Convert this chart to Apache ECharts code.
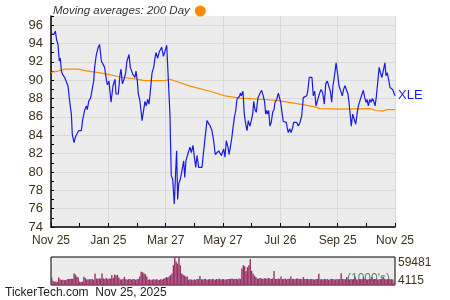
<!DOCTYPE html>
<html><head><meta charset="utf-8">
<script src="https://cdn.jsdelivr.net/npm/echarts@6/dist/echarts.min.js"></script>
<style>html,body{margin:0;padding:0;background:#fff}#c{width:450px;height:300px}</style>
</head><body><div id="c"></div>
<script>
// calendar-day offsets from Nov 25, 2024
const days = [0,3.2,4.6,6.0,7.4,8.8,9.9,11.0,12.4,14.5,16.3,18.0,19.8,21.6,22.6,24.4,26.2,27.9,29.4,32.2,33.6,35.7,37.5,38.5,40.0,42.1,43.9,45.3,46.3,48.1,49.9,51.6,53.4,55.2,56.9,58.7,59.8,61.5,63.7,65.8,67.9,69.0,71.4,73.2,74.3,75.7,77.5,79.2,80.6,82.8,84.1,85.6,87.0,89.1,90.2,91.6,92.6,94.1,95.5,96.6,98.3,99.7,101.1,102.6,104.0,105.4,107.2,109.0,110.3,111.4,113.2,114.9,117.4,119.3,121.3,122.8,124.9,126.2,127.6,129.1,130.8,132.3,133.3,134.4,135.5,137.2,139.0,140.8,141.9,143.2,145.0,146.1,147.5,148.9,150.7,152.1,153.6,154.9,156.7,158.5,160.2,162.0,163.7,165.5,167.3,169.0,170.8,172.6,174.3,176.1,177.9,179.0,180.7,181.8,183.2,184.6,186.0,187.8,188.9,190.3,191.7,193.1,194.5,196.0,197.3,198.7,200.2,200.9,202.0,203.7,205.1,206.6,208.0,209.3,211.1,212.5,214.0,215.1,216.4,217.8,219.6,221.4,223.5,225.2,226.7,227.8,228.8,229.9,231.0,232.3,233.7,235.2,236.6,237.7,239.5,241.2,243.7,245.1,246.5,248.3,249.7,250.8,251.8,253.3,254.6,256.1,257.5,258.9,260.7,262.4,264.2,266.0,267.7,269.5,271.3,272.4,274.0,275.5,276.9,278.3,279.8,281.2,283.0,284.7,286.5,288.3,290.0,291.5,293.2,294.6,296.4,297.8,299.2,300.8,302.5,304.2,305.6,307.7,309.1,310.5,311.9,313.7,315.1,316.2,317.6,318.6,320.1,321.8,323.3,324.7,326.1,328.2,330.0,331.4,332.9,334.2,335.3,336.7,338.2,339.6,341.0,342.5,343.9,345.3,346.8,348.2,349.6,351.1,352.5,354.3,355.4,356.8,358.2,359.7,361.1,362.5,364.0,365];
const prices = [95.06,95.0,95.35,94.4,93.9,92.1,92.4,91.0,90.6,90.3,90.3,89.4,87.7,86.3,84.1,83.2,83.9,83.8,84.5,84.5,85.7,86.7,87.2,86.8,87.7,88.1,88.3,89.9,91.4,92.8,93.5,93.9,92.1,92.3,91.4,90.1,89.5,89.9,87.6,89.4,90.1,88.5,88.5,90.6,91.2,89.6,90.1,90.8,92.1,92.8,91.4,91.5,90.6,90.3,91.0,89.9,88.5,87.9,86.7,85.6,85.7,87.7,87.2,87.9,87.4,88.8,90.8,91.4,92.4,93.0,92.4,93.1,93.6,92.6,92.4,93.8,94.0,86.3,79.6,79.2,76.5,80.1,82.3,77.0,78.7,79.2,79.4,81.2,79.4,81.2,81.9,81.8,82.7,82.1,82.9,81.6,80.5,81.8,80.5,80.5,80.5,82.3,83.9,85.6,85.4,85.0,84.5,83.4,81.9,81.8,82.3,82.5,81.8,81.6,82.5,81.6,83.4,82.7,81.9,82.7,83.6,84.8,85.9,86.7,87.9,88.1,88.3,88.6,88.3,88.8,86.3,85.2,84.5,85.6,85.0,85.6,86.3,87.7,86.8,86.5,88.1,88.5,88.9,88.3,87.6,86.3,86.7,86.3,86.7,85.0,85.4,86.5,86.8,87.6,87.9,88.6,87.6,86.5,85.5,85.4,85.4,84.7,84.3,84.7,84.3,84.7,85.4,85.6,85.4,85.0,85.4,86.1,88.1,88.3,88.3,88.8,90.3,90.3,90.3,88.3,88.8,87.2,87.0,88.5,89.0,88.6,87.4,89.6,89.9,89.8,88.8,87.6,89.4,90.5,91.9,90.6,89.4,89.4,88.3,89.0,89.4,89.4,88.5,87.6,86.1,85.0,86.3,86.1,85.2,86.3,87.2,87.9,88.5,88.9,88.1,87.6,87.9,87.2,87.9,87.6,88.0,87.7,87.2,88.3,89.9,91.4,90.8,90.3,91.0,91.9,90.5,90.8,90.1,89.2,89.4,89.0,89.0,88.3];
const maDays = [0,7.4,14.9,28.6,36,52,62.6,73.2,89.1,99.7,121,126.3,129.4,147.5,168.7,184.6,200.5,227,243,264.2,280,285.4,306.6,338.5,344.8,352.3,356.5,365];
const maValues = [90.85,91.0,91.2,91.2,91.05,90.8,90.6,90.35,90.15,89.95,89.95,90.1,90.0,89.35,88.8,88.3,88.05,87.9,87.75,87.4,87.1,86.9,86.85,86.9,86.7,86.65,86.8,86.8];
const xTickLabels = ['Nov 25','Jan 25','Mar 27','May 27','Jul 26','Sep 25','Nov 25'];
const volumes = [16000,9000,7000,7500,6500,16000,12000,10500,11000,10000,10500,11500,13000,12500,13500,13000,24500,22000,17500,16000,7000,6500,7000,17500,15000,12000,11500,12500,12000,13000,11000,24500,14000,13000,14500,13500,24500,14000,13000,15000,12500,14000,13500,21000,15000,22000,20000,21500,16000,12000,11500,12500,17500,12000,11000,12500,13000,11500,12000,12500,11000,12000,13000,18000,28000,27000,25000,23000,18000,11000,12000,10500,11500,12000,11000,12500,11000,10500,12000,11500,13000,15000,17000,16000,18000,21000,24500,42000,59481,50000,45500,59000,42000,24500,22000,20000,17500,18000,11000,12000,11500,10500,12000,11000,13000,12500,19000,12000,11500,12500,13000,11000,12000,12500,11500,13000,12000,11000,12500,12000,13500,11500,12000,12500,11000,12000,13000,12500,13000,14000,12500,13000,13500,12000,14000,13000,35000,42000,40000,30000,38000,42000,55000,30000,24000,20000,17000,14000,13500,15000,14000,13000,14500,14000,13500,15000,14000,13000,14000,30000,13000,12500,14000,13000,18000,12500,13000,14000,12000,13500,13000,18000,12500,13000,12000,13500,14000,12500,13000,12000,17000,13000,12500,13000,12000,12500,13000,12000,11500,12500,13000,24000,12000,12500,11500,13000,12000,12500,11000,12000,13000,12500,11500,12000,13000,12000,12500,25000,13000,12000,12500,17000,12000,11500,13000,12000,12500,17500,12000,11500,12500,13000,12000,16000,12500,12000,11500,13000,12500,17000,12000,12500,13000,11500,12000,12500,13000,18000,12000,11500,12500,13000,12000,12500,11500,5000];
const volAxisLabels = [4115, 59481];
const tickerName = 'XLE';
const maName = 'Moving averages: 200 Day';

const SPAN = 365, STEP = SPAN / 6;
const chart = echarts.init(document.getElementById('c'), null, {renderer: 'canvas'});
const labelColor = '#3d3118';
const font = 'Liberation Sans, Arial, sans-serif';
chart.setOption({
  animation: false,
  textStyle: {fontFamily: font},
  legend: {
    data: [{name: maName, icon: 'circle'}], left: 48, top: 0, align: 'right',
    itemWidth: 11, itemHeight: 11, itemGap: 4,
    textStyle: {fontStyle: 'italic', fontSize: 11.5, color: '#333', fontFamily: font}
  },
  grid: [
    {left: 51, top: 16, width: 344, height: 211, show: true, backgroundColor: '#ececec', borderWidth: 0},
    {left: 51, top: 257, width: 344, height: 28, show: true, backgroundColor: '#ececec', borderColor: '#000', borderWidth: 1}
  ],
  xAxis: [
    {type: 'value', gridIndex: 0, min: 0, max: SPAN, interval: STEP,
     axisLine: {onZero: false, lineStyle: {color: '#000', width: 1.5}},
     axisTick: {inside: true, length: 4, lineStyle: {color: '#000'}},
     minorTick: {show: true, splitNumber: 2, length: 4, lineStyle: {color: '#000'}},
     splitLine: {show: true, lineStyle: {color: '#d9d9d9'}},
     axisLabel: {color: labelColor, fontSize: 12, margin: 8, fontFamily: font,
       formatter: v => xTickLabels[Math.round(v / STEP)] || ''}},
    {type: 'category', gridIndex: 1, data: volumes.map((_, i) => i), show: false, boundaryGap: true}
  ],
  yAxis: [
    {type: 'value', gridIndex: 0, min: 74, max: 97, interval: 2,
     axisLine: {show: true, onZero: false, lineStyle: {color: '#000', width: 1.5}},
     axisTick: {show: true, inside: true, length: 3, lineStyle: {color: '#000'}},
     minorTick: {show: true, splitNumber: 2, length: 3, lineStyle: {color: '#000'}},
     splitLine: {show: true, showMaxLine: false, lineStyle: {color: '#d9d9d9'}},
     axisLabel: {color: labelColor, fontSize: 13, margin: 8, showMaxLabel: false, fontFamily: font}},
    {type: 'value', gridIndex: 1, min: 0, max: 59481, position: 'right',
     axisLine: {show: false}, axisTick: {show: false}, splitLine: {show: false},
     axisLabel: {customValues: volAxisLabels, color: labelColor, fontSize: 12, margin: 3,
       verticalAlignMaxLabel: 'top', fontFamily: font,
       formatter: v => v === volAxisLabels[0] ? '{lo|' + v + '}' : String(v),
       rich: {lo: {color: labelColor, fontSize: 12, fontFamily: font, padding: [0, 0, 5, 0]}}}}
  ],
  series: [
    {type: 'bar', xAxisIndex: 1, yAxisIndex: 1, data: volumes, barCategoryGap: '0%', barGap: '0%',
     itemStyle: {color: '#993366'}, silent: true},
    {type: 'line', name: maName, xAxisIndex: 0, yAxisIndex: 0, data: maDays.map((d, i) => [d, maValues[i]]),
     showSymbol: false, smooth: false, lineStyle: {color: '#ff8c00', width: 1.2}, itemStyle: {color: '#ff8c00'}},
    {type: 'line', name: tickerName, xAxisIndex: 0, yAxisIndex: 0, data: days.map((d, i) => [d, prices[i]]),
     showSymbol: false, lineStyle: {color: '#1a1ae6', width: 1.2}, itemStyle: {color: '#1a1ae6'},
     endLabel: {show: true, formatter: tickerName, color: '#1a1ae6', fontSize: 13, distance: 3, fontFamily: font}}
  ],
  graphic: [
    {type: 'text', left: 347, top: 273, silent: true,
     style: {text: "(1000's)", fill: '#5e7d6c', font: '12px ' + font}},
    {type: 'text', left: 5, top: 287, silent: true,
     style: {text: 'TickerTech.com  Nov 25, 2025', fill: '#222', font: '12px ' + font}}
  ]
});
</script>
</body></html>
